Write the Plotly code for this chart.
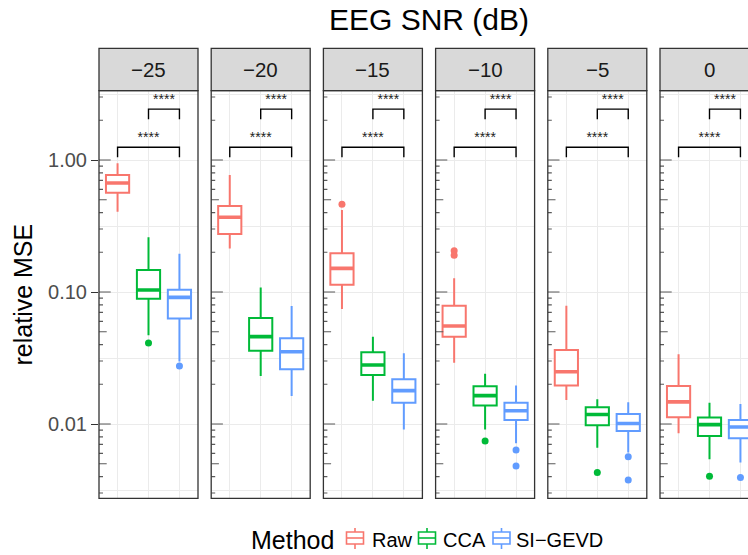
import math
import plotly.graph_objects as go

# ---------------- data ----------------
snr_levels = ["−25", "−20", "−15", "−10", "−5", "0"]
methods = ["Raw", "CCA", "SI−GEVD"]

raw_upper = [0.944, 0.77, 0.418, 0.127, 0.0787, 0.0337]
raw_q3 = [0.77, 0.449, 0.197, 0.0787, 0.0364, 0.0194]
raw_median = [0.67, 0.368, 0.151, 0.0552, 0.0249, 0.0147]
raw_q1 = [0.565, 0.275, 0.1137, 0.0459, 0.0196, 0.01124]
raw_lower = [0.406, 0.214, 0.0743, 0.0291, 0.0152, 0.0085]
raw_outliers = [[], [], [0.462], [0.205, 0.19], [], []]

cca_upper = [0.26, 0.108, 0.0459, 0.024, 0.0154, 0.0145]
cca_q3 = [0.147, 0.0635, 0.0349, 0.0193, 0.0134, 0.0112]
cca_median = [0.1036, 0.0459, 0.028, 0.0164, 0.0118, 0.0099]
cca_q1 = [0.089, 0.0359, 0.0235, 0.0138, 0.0098, 0.0081]
cca_lower = [0.047, 0.0231, 0.015, 0.0091, 0.00662, 0.0054]
cca_outliers = [[0.041], [], [], [0.00743], [0.0043], [0.00402]]

si_upper = [0.195, 0.0783, 0.0343, 0.0196, 0.0146, 0.0142]
si_q3 = [0.104, 0.0446, 0.0218, 0.0145, 0.0119, 0.0107]
si_median = [0.091, 0.0353, 0.0179, 0.0126, 0.0101, 0.0095]
si_q1 = [0.063, 0.026, 0.0145, 0.0107, 0.00885, 0.0078]
si_lower = [0.0297, 0.0163, 0.0091, 0.00714, 0.00607, 0.0051]
si_outliers = [[0.0275], [], [], [0.00635, 0.0048], [0.00565, 0.00377], [0.00394]]

# significance comparisons (group indices, label)
comparisons = [(1, 3, "****"), (2, 3, "****")]

y_tick_vals = [0.01, 0.1, 1.0]
y_tick_text = ["0.01", "0.10", "1.00"]

# ---------------- styling / layout constants ----------------
W, H = 748, 555
colors = ["#F8766D", "#00BA38", "#619CFF"]
FONT = "Liberation Sans, Arial, Helvetica, sans-serif"
GRID = "#EBEBEB"
BORDER = "#333333"

panel_left0, panel_step, panel_w = 99.0, 112.2, 99.0
panel_top, panel_bot, strip_top = 90.7, 498.3, 48.3
y_px_1, px_per_decade = 160.0, 132.0
x_lo, x_hi = 0.4, 3.6
units_per_px = (x_hi - x_lo) / panel_w
box_width = 0.75

# bracket geometry (data units on log axis)
bar_levels = [1.25, 2.43]
tip_levels = [1.05, 2.04]
label_levels = [1.46, 2.82]

y_top_log = (y_px_1 - panel_top) / px_per_decade
y_bot_log = (y_px_1 - panel_bot) / px_per_decade
ymin, ymax = 10 ** y_bot_log, 10 ** y_top_log


def px_x(x):
    return x / W


def px_y(y):
    return 1 - y / H


stats = {
    "Raw": (raw_lower, raw_q1, raw_median, raw_q3, raw_upper, raw_outliers),
    "CCA": (cca_lower, cca_q1, cca_median, cca_q3, cca_upper, cca_outliers),
    "SI−GEVD": (si_lower, si_q1, si_median, si_q3, si_upper, si_outliers),
}

fig = go.Figure()
shapes = []
annotations = []
layout_axes = {}

for i, snr in enumerate(snr_levels):
    n = "" if i == 0 else str(i + 1)
    xa, ya = "x" + n, "y" + n
    left = panel_left0 + panel_step * i
    right_full = left + panel_w
    right_vis = min(right_full, W)
    xr_hi = x_lo + (right_vis - left) * units_per_px

    layout_axes["xaxis" + n] = dict(
        domain=[px_x(left), min(px_x(right_full), 1.0)],
        range=[x_lo, xr_hi], anchor=ya, type="linear",
        tickvals=[1, 2, 3], showticklabels=False, ticks="",
        showgrid=True, gridcolor=GRID, gridwidth=1.2,
        zeroline=False, showline=False, fixedrange=True,
    )
    ydict = dict(
        domain=[px_y(panel_bot), px_y(panel_top)],
        range=[y_bot_log, y_top_log], anchor=xa, type="log",
        tickvals=y_tick_vals, ticktext=y_tick_text,
        showgrid=True, gridcolor=GRID, gridwidth=1.2,
        minor=dict(tickvals=[10 ** 0.5, 10 ** -0.5, 10 ** -1.5, 10 ** -2.5],
                   showgrid=True, gridcolor=GRID, gridwidth=1.2, ticks=""),
        zeroline=False, showline=False, fixedrange=True,
    )
    if i == 0:
        ydict.update(showticklabels=True, ticks="outside", ticklen=7,
                     tickwidth=1.3, tickcolor=BORDER,
                     tickfont=dict(size=20, color="#4D4D4D", family=FONT))
    else:
        ydict.update(showticklabels=False, ticks="")
    layout_axes["yaxis" + n] = ydict

    # log ticks (annotation_logticks style)
    lx, ly = [], []
    for e in range(-4, 2):
        for k in range(1, 10):
            v = k * 10 ** e
            if ymin <= v <= ymax:
                L = 11.7 if k == 1 else (7.7 if k == 5 else 4.0)
                lx += [x_lo, x_lo + L * units_per_px, None]
                ly += [v, v, None]
    fig.add_trace(go.Scatter(x=lx, y=ly, mode="lines", xaxis=xa, yaxis=ya,
                             line=dict(color="#5A5A5A", width=1.2),
                             hoverinfo="skip", showlegend=False))

    # boxes
    for j, m in enumerate(methods):
        lo, q1, med, q3, up, outs = stats[m]
        pos = j + 1
        fig.add_trace(go.Box(
            x=[pos], lowerfence=[lo[i]], q1=[q1[i]], median=[med[i]],
            q3=[q3[i]], upperfence=[up[i]], width=box_width,
            line=dict(color=colors[j], width=2), fillcolor="white",
            whiskerwidth=0, boxpoints=False, name=m,
            xaxis=xa, yaxis=ya, showlegend=False, hoverinfo="skip"))
        fig.add_trace(go.Scatter(
            x=[pos - box_width / 2, pos + box_width / 2], y=[med[i], med[i]],
            mode="lines", line=dict(color=colors[j], width=3.6),
            xaxis=xa, yaxis=ya, showlegend=False, hoverinfo="skip"))
        if outs[i]:
            fig.add_trace(go.Scatter(
                x=[pos] * len(outs[i]), y=outs[i], mode="markers",
                marker=dict(color=colors[j], size=7, line=dict(width=0)),
                xaxis=xa, yaxis=ya, showlegend=False, hoverinfo="skip"))

    # significance brackets
    for (g1, g2, lab), bar, tip, ly_ in zip(comparisons, bar_levels, tip_levels, label_levels):
        fig.add_trace(go.Scatter(
            x=[g1, g1, g2, g2], y=[tip, bar, bar, tip], mode="lines",
            line=dict(color="black", width=1.4), xaxis=xa, yaxis=ya,
            showlegend=False, hoverinfo="skip"))
        fig.add_trace(go.Scatter(
            x=[(g1 + g2) / 2], y=[ly_], mode="text", text=[lab],
            textposition="middle center",
            textfont=dict(size=14, color="#222222", family=FONT),
            xaxis=xa, yaxis=ya, showlegend=False, hoverinfo="skip"))

    # strip
    shapes.append(dict(type="rect", xref="paper", yref="paper",
                       x0=px_x(left), x1=px_x(right_full),
                       y0=px_y(panel_top), y1=px_y(strip_top),
                       fillcolor="#D9D9D9", line=dict(color=BORDER, width=1.3),
                       layer="above"))
    annotations.append(dict(text=snr, xref="paper", yref="paper",
                            x=px_x(left + panel_w / 2),
                            y=px_y((strip_top + panel_top) / 2),
                            xanchor="center", yanchor="middle", showarrow=False,
                            font=dict(size=20.5, color="#1A1A1A", family=FONT)))
    # panel border
    shapes.append(dict(type="rect", xref="paper", yref="paper",
                       x0=px_x(left), x1=px_x(right_full),
                       y0=px_y(panel_bot), y1=px_y(panel_top),
                       line=dict(color=BORDER, width=1.3), layer="above"))

# title over the facets
annotations.append(dict(text="EEG SNR (dB)", xref="paper", yref="paper",
                        x=px_x((panel_left0 + panel_left0 + panel_step * 5 + panel_w) / 2),
                        y=px_y(20), xanchor="center", yanchor="middle",
                        showarrow=False, font=dict(size=30, color="black", family=FONT)))
# y axis title
annotations.append(dict(text="relative MSE", xref="paper", yref="paper",
                        x=px_x(22), y=px_y((panel_top + panel_bot) / 2),
                        xanchor="center", yanchor="middle", textangle=-90,
                        showarrow=False, font=dict(size=25, color="black", family=FONT)))

# legend (bottom)
leg_y = 540.0
annotations.append(dict(text="Method", xref="paper", yref="paper",
                        x=px_x(249), y=px_y(leg_y), xanchor="left", yanchor="middle",
                        showarrow=False, font=dict(size=25, color="black", family=FONT)))
key_x = [346.5, 418.5, 493.0]
text_x = [370.0, 441.0, 514.0]
for j, m in enumerate(methods):
    kx = key_x[j]
    c = colors[j]
    shapes.append(dict(type="rect", xref="paper", yref="paper",
                       x0=px_x(kx), x1=px_x(kx + 17), y0=px_y(544), y1=px_y(532),
                       fillcolor="white", line=dict(color=c, width=1.6)))
    shapes.append(dict(type="line", xref="paper", yref="paper",
                       x0=px_x(kx + 8.5), x1=px_x(kx + 8.5), y0=px_y(528), y1=px_y(532),
                       line=dict(color=c, width=1.6)))
    shapes.append(dict(type="line", xref="paper", yref="paper",
                       x0=px_x(kx + 8.5), x1=px_x(kx + 8.5), y0=px_y(544), y1=px_y(549),
                       line=dict(color=c, width=1.6)))
    shapes.append(dict(type="line", xref="paper", yref="paper",
                       x0=px_x(kx), x1=px_x(kx + 17), y0=px_y(538), y1=px_y(538),
                       line=dict(color=c, width=1.6)))
    annotations.append(dict(text=m, xref="paper", yref="paper",
                            x=px_x(text_x[j]), y=px_y(leg_y), xanchor="left",
                            yanchor="middle", showarrow=False,
                            font=dict(size=20, color="black", family=FONT)))

fig.update_layout(
    width=W, height=H, autosize=False,
    margin=dict(l=0, r=0, t=0, b=0, pad=0),
    paper_bgcolor="white", plot_bgcolor="white",
    font=dict(family=FONT),
    showlegend=False, boxmode="overlay",
    shapes=shapes, annotations=annotations,
    **layout_axes,
)

fig.write_html("out.html", config={"displayModeBar": False})
